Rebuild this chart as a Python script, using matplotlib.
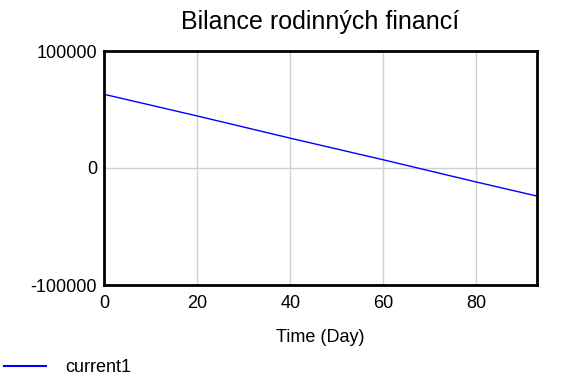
import numpy as np
from matplotlib import pyplot as plt

plt.rcParams['font.family'] = ['Liberation Sans', 'DejaVu Sans']
plt.rcParams['axes.unicode_minus'] = False

# values
days = [0, 20, 40, 60, 80, 93]
current1 = [63000, 44500, 25500, 7000, -12000, -24000]

fig = plt.figure(figsize=(5.76, 3.84), dpi=100)
ax = fig.add_axes([104/576, 1-285/384, (537-104)/576, (285-51)/384])

ax.plot(days, current1, color='#0000ff', lw=1, label='current1')
ax.set_xlim(0, 93)
ax.set_ylim(-100000, 100000)
ax.set_xticks([0, 20, 40, 60, 80])
ax.set_yticks([-100000, 0, 100000])
ax.grid(True, color='#d0d0d0', lw=1)
ax.set_axisbelow(True)
ax.tick_params(length=0, labelsize=13)
ax.tick_params(axis='x', pad=7.5)
ax.tick_params(axis='y', pad=5)
for s in ax.spines.values():
    s.set_linewidth(2)
ax.set_xlabel('Time (Day)', fontsize=13, labelpad=12)
fig.text(320/576, 1-22/384, 'Bilance rodinných financí', fontsize=18, ha='center', va='center')

leg = fig.legend(loc='center left', bbox_to_anchor=(4/576, 1-368/384), frameon=False, fontsize=13,
                 handlelength=2.3, handletextpad=1.1, borderaxespad=0, borderpad=0)
leg.get_lines()[0].set_linewidth(1.5)

fig.savefig('out.png', dpi=100)
